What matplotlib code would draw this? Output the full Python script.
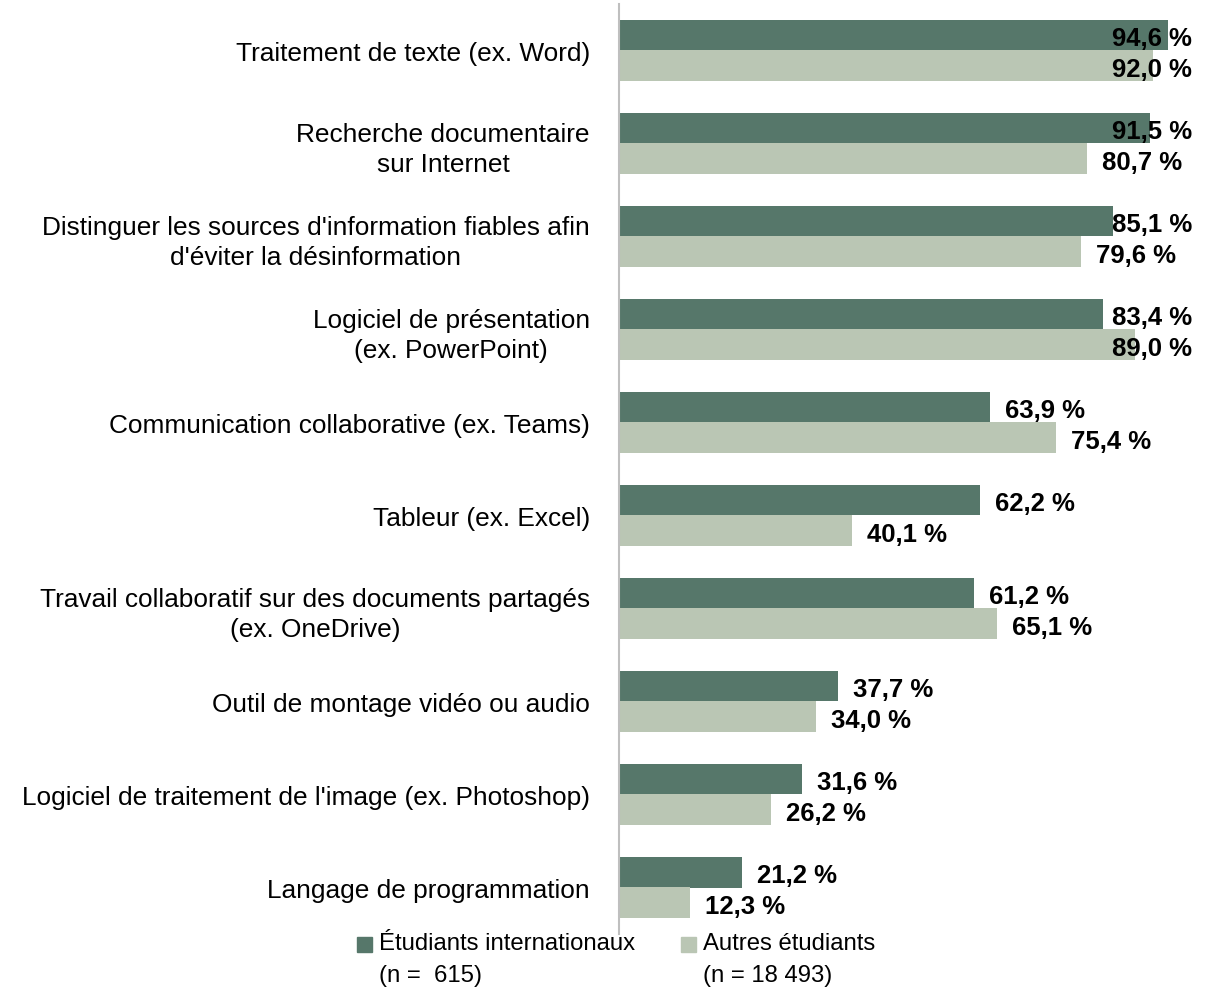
import numpy as np
import matplotlib
matplotlib.use('Agg')
import matplotlib.pyplot as plt
from matplotlib.patches import Rectangle

categories = [
    "Traitement de texte (ex. Word)",
    "Recherche documentaire\nsur Internet",
    "Distinguer les sources d'information fiables afin\nd'éviter la désinformation",
    "Logiciel de présentation\n(ex. PowerPoint)",
    "Communication collaborative (ex. Teams)",
    "Tableur (ex. Excel)",
    "Travail collaboratif sur des documents partagés\n(ex. OneDrive)",
    "Outil de montage vidéo ou audio",
    "Logiciel de traitement de l'image (ex. Photoshop)",
    "Langage de programmation",
]
internationaux = [94.6, 91.5, 85.1, 83.4, 63.9, 62.2, 61.2, 37.7, 31.6, 21.2]
autres = [92.0, 80.7, 79.6, 89.0, 75.4, 40.1, 65.1, 34.0, 26.2, 12.3]
legend_labels = ["Étudiants internationaux\n(n =  615)", "Autres étudiants\n(n = 18 493)"]

DARK = '#56776A'
LIGHT = '#BAC6B4'

plt.rcParams['font.family'] = ['Liberation Sans', 'DejaVu Sans']

fig = plt.figure(figsize=(12.17, 9.95), dpi=100)
ax = fig.add_axes([619 / 1217, 1 - 935 / 995, 580 / 1217, 930 / 995])

n = len(categories)
y = np.arange(n)
h = 0.33
ax.barh(y - h / 2, internationaux, height=h, color=DARK)
ax.barh(y + h / 2, autres, height=h, color=LIGHT)
ax.set_xlim(0, 100)
ax.set_ylim(n - 0.5, -0.5)

# value labels, pushed back inside the plot when they would run past the edge
for vals, off in ((internationaux, -h / 2), (autres, h / 2)):
    for i, v in enumerate(vals):
        txt = f"{v:.1f} %".replace('.', ',')
        if v > 82.5:
            ax.text(98.8, i + off + 0.03, txt, ha='right', va='center', fontsize=18.5, fontweight='bold')
        else:
            ax.text(v + 2.6, i + off + 0.03, txt, ha='left', va='center', fontsize=18.5, fontweight='bold')

ax.set_yticks(y)
ax.set_yticklabels(categories, fontsize=18.9, multialignment='center', linespacing=1.3)
ax.tick_params(axis='y', length=0, pad=21)
ax.set_xticks([])
for s in ['top', 'right', 'bottom']:
    ax.spines[s].set_visible(False)
ax.spines['left'].set_color('#BFBFBF')
ax.spines['left'].set_linewidth(1.5)

# legend drawn by hand so the swatch sits on the first line
for (x0, col, lab) in ((357, DARK, legend_labels[0]), (681, LIGHT, legend_labels[1])):
    fig.patches.append(Rectangle((x0 / 1217, 1 - 953 / 995), 15 / 1217, 15 / 995,
                                 transform=fig.transFigure, color=col))
    fig.text((x0 + 22) / 1217, 1 - 933 / 995, lab, ha='left', va='top', fontsize=17.2,
             linespacing=1.6)

fig.savefig('out.png', dpi=100)
